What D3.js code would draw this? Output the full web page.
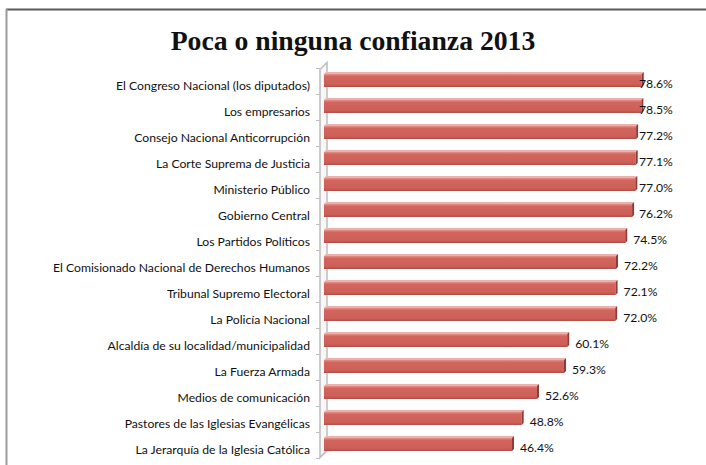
<!DOCTYPE html>
<html>
<head>
<meta charset="utf-8">
<script src="https://cdn.jsdelivr.net/npm/d3@7"></script>
<style>
  html, body { margin: 0; padding: 0; background: #fff; }
  svg { display: block; }
</style>
</head>
<body>
<svg id="chart" width="706" height="465"></svg>
<script>
// Institutions, top to bottom
const categories = [
  "El Congreso Nacional (los diputados)",
  "Los empresarios",
  "Consejo Nacional Anticorrupción",
  "La Corte Suprema de Justicia",
  "Ministerio Público",
  "Gobierno Central",
  "Los Partidos Políticos",
  "El Comisionado Nacional de Derechos Humanos",
  "Tribunal Supremo Electoral",
  "La Policía Nacional",
  "Alcaldía de su localidad/municipalidad",
  "La Fuerza Armada",
  "Medios de comunicación",
  "Pastores de las Iglesias Evangélicas",
  "La Jerarquía de la Iglesia Católica"
];
// Share with little or no confidence (%)
const values = [78.6, 78.5, 77.2, 77.1, 77.0, 76.2, 74.5, 72.2, 72.1, 72.0, 60.1, 59.3, 52.6, 48.8, 46.4];
const title = "Poca o ninguna confianza 2013";

const svg = d3.select("#chart");
const W = 706, H = 465;

// Outer frame (top and left edges)
svg.append("line").attr("x1", 6).attr("y1", 9.5).attr("x2", W).attr("y2", 9.5)
  .attr("stroke", "#5a5a5a").attr("stroke-width", 2);
svg.append("line").attr("x1", 6.5).attr("y1", 9).attr("x2", 6.5).attr("y2", H)
  .attr("stroke", "#9a9a9a").attr("stroke-width", 2);

// Title
svg.append("text")
  .attr("x", 353).attr("y", 50)
  .attr("text-anchor", "middle")
  .attr("font-family", "Liberation Serif, serif")
  .attr("font-weight", "bold")
  .attr("font-size", 27.7)
  .attr("fill", "#111")
  .text(title);

const x = d3.scaleLinear().domain([0, 80]).range([325, 325 + 80 * 4.03]);
const y = d3.scaleBand().domain(categories).range([67.5, 457.5])
  .paddingInner(0.5).paddingOuter(0.25);

const depth = 7;       // 3-D depth offset
const labelLimit = 639;

// Gradient for the bar front face
const defs = svg.append("defs");
const g1 = defs.append("linearGradient").attr("id", "barFront")
  .attr("x1", 0).attr("y1", 0).attr("x2", 0).attr("y2", 1);
g1.append("stop").attr("offset", "0%").attr("stop-color", "#e4908a");
g1.append("stop").attr("offset", "18%").attr("stop-color", "#d2665f");
g1.append("stop").attr("offset", "80%").attr("stop-color", "#cc5f58");
g1.append("stop").attr("offset", "100%").attr("stop-color", "#b44b45");

// Back wall of the category axis
const wallTop = y.range()[0], wallBot = y.range()[1];
const wx = x(0) - 5;
svg.append("path")
  .attr("d", `M${wx},${wallTop + 2} L${wx + depth},${wallTop - 5} L${wx + depth},${wallBot - 7} L${wx},${wallBot} Z`)
  .attr("fill", "#f7f7f7").attr("stroke", "#bdbdbd").attr("stroke-width", 1.5);
// Floor edge
svg.append("path")
  .attr("d", `M${wx},${wallBot} L${wx + depth},${wallBot - 7} L${wx + depth + 5},${wallBot - 7}`)
  .attr("fill", "none").attr("stroke", "#bdbdbd").attr("stroke-width", 1.5);

// Tick marks between categories
const bounds = d3.range(categories.length + 1).map(i => y.range()[0] + i * y.step());
svg.append("g").selectAll("line").data(bounds).join("line")
  .attr("x1", wx - 4).attr("x2", wx)
  .attr("y1", d => d + 1).attr("y2", d => d + 1)
  .attr("stroke", "#bdbdbd").attr("stroke-width", 1);

const rows = svg.append("g").selectAll("g").data(categories).join("g");

// Bar top face
rows.append("path")
  .attr("d", (c, i) => {
    const y0 = y(c), x0 = x(0) - 1, x1 = x(values[i]);
    return `M${x0},${y0} L${x0 + 2},${y0 - 2} L${x1 + 2},${y0 - 2} L${x1},${y0} Z`;
  })
  .attr("fill", "#eab1ad");

// Bar front face
rows.append("rect")
  .attr("x", x(0) - 1)
  .attr("y", c => y(c))
  .attr("width", (c, i) => x(values[i]) - x(0) + 1)
  .attr("height", y.bandwidth())
  .attr("fill", "url(#barFront)");

// Bar end cap
rows.append("path")
  .attr("d", (c, i) => {
    const y0 = y(c), x1 = x(values[i]), h = y.bandwidth();
    return `M${x1},${y0} L${x1 + 2},${y0 - 2} L${x1 + 2},${y0 + h - 2} L${x1},${y0 + h} Z`;
  })
  .attr("fill", "#8f3a35");

// Category labels
rows.append("text")
  .attr("x", 310)
  .attr("y", c => y(c) + y.bandwidth() / 2 + 5)
  .attr("dy", "0.35em")
  .attr("text-anchor", "end")
  .attr("font-family", "Lato, sans-serif")
  .attr("font-size", 12.2)
  .attr("fill", "#111")
  .text(c => c);

// Value labels
rows.append("text")
  .attr("x", (c, i) => Math.min(x(values[i]) + 8, labelLimit))
  .attr("y", c => y(c) + y.bandwidth() / 2 + 3)
  .attr("dy", "0.35em")
  .attr("font-family", "Lato, sans-serif")
  .attr("font-size", 12.2)
  .attr("fill", "#111")
  .text((c, i) => values[i].toFixed(1) + "%");
</script>
</body>
</html>
